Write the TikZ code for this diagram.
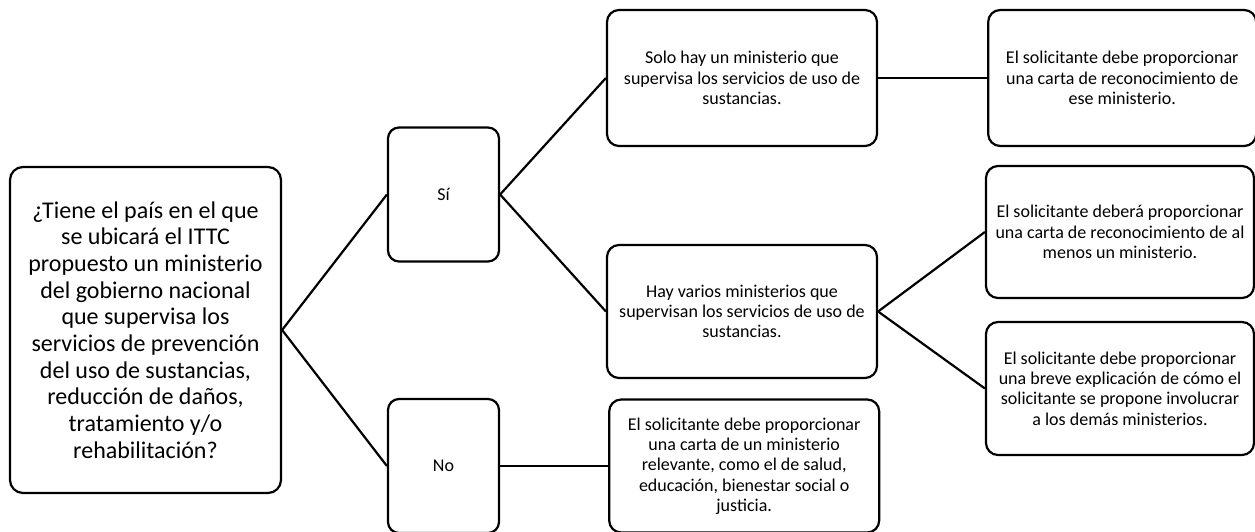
\documentclass[tikz,border=0pt]{standalone}
\usepackage{fontspec}
\setmainfont{Carlito}
\usepackage{tikz}
\usetikzlibrary{positioning}
\tikzstyle{bigbox} = [rectangle, rounded corners=13pt, minimum width=271pt, minimum height=326pt, text centered, draw=black, line width=2.2pt, font=\fontsize{24}{26.7}\selectfont]
\tikzstyle{answer} = [rectangle, rounded corners=11pt, minimum width=111pt, minimum height=134pt, text centered, draw=black, line width=2.2pt, font=\fontsize{18}{20.3}\selectfont]
\tikzstyle{infobox} = [rectangle, rounded corners=12pt, minimum width=270pt, minimum height=133pt, text centered, draw=black, line width=2.2pt, font=\fontsize{18}{20.3}\selectfont]
\tikzstyle{link} = [line width=2.2pt]

\begin{document}
\begin{tikzpicture}[x=1pt, y=-1pt]
        \useasboundingbox (0,0) rectangle (1255,532);
        \node (question) [bigbox, align=center] at (145.5,330) {¿Tiene el país en el que\\se ubicará el ITTC\\propuesto un ministerio\\del gobierno nacional\\que supervisa los\\servicios de prevención\\del uso de sustancias,\\reducción de daños,\\tratamiento y/o\\rehabilitación?};
        \node (yes) [answer] at (443.5,194.5) {Sí};
        \node (no) [answer] at (443.5,466) {No};
        \node (single) [infobox, minimum height=136pt, align=center] at (742,78) {Solo hay un ministerio que\\supervisa los servicios de uso de\\sustancias.};
        \node (several) [infobox, align=center] at (742,311.5) {Hay varios ministerios que\\supervisan los servicios de uso de\\sustancias.};
        \node (relevant) [infobox, right=108pt of no, align=center] {El solicitante debe proporcionar\\una carta de un ministerio\\relevante, como el de salud,\\educación, bienestar social o\\justicia.};
        \node (singleletter) [infobox, minimum width=268pt, minimum height=136pt, right=109pt of single, align=center] {El solicitante debe proporcionar\\una carta de reconocimiento de\\ese ministerio.};
        \node (oneletter) [infobox, minimum width=268pt, minimum height=132pt, align=center] at (1120,232) {El solicitante deberá proporcionar\\una carta de reconocimiento de al\\menos un ministerio.};
        \node (involve) [infobox, minimum width=268pt, align=center] at (1120,388.5) {El solicitante debe proporcionar\\una breve explicación de cómo el\\solicitante se propone involucrar\\a los demás ministerios.};

        \draw [link] (question.east) -- (yes.west);
        \draw [link] (question.east) -- (no.west);
        \draw [link] (yes.east) -- (single.west);
        \draw [link] (yes.east) -- (several.west);
        \draw [link] (no.east) -- (relevant.west);
        \draw [link] (single.east) -- (singleletter.west);
        \draw [link] (several.east) -- (oneletter.west);
        \draw [link] (several.east) -- (involve.west);
    \end{tikzpicture}
\end{document}
